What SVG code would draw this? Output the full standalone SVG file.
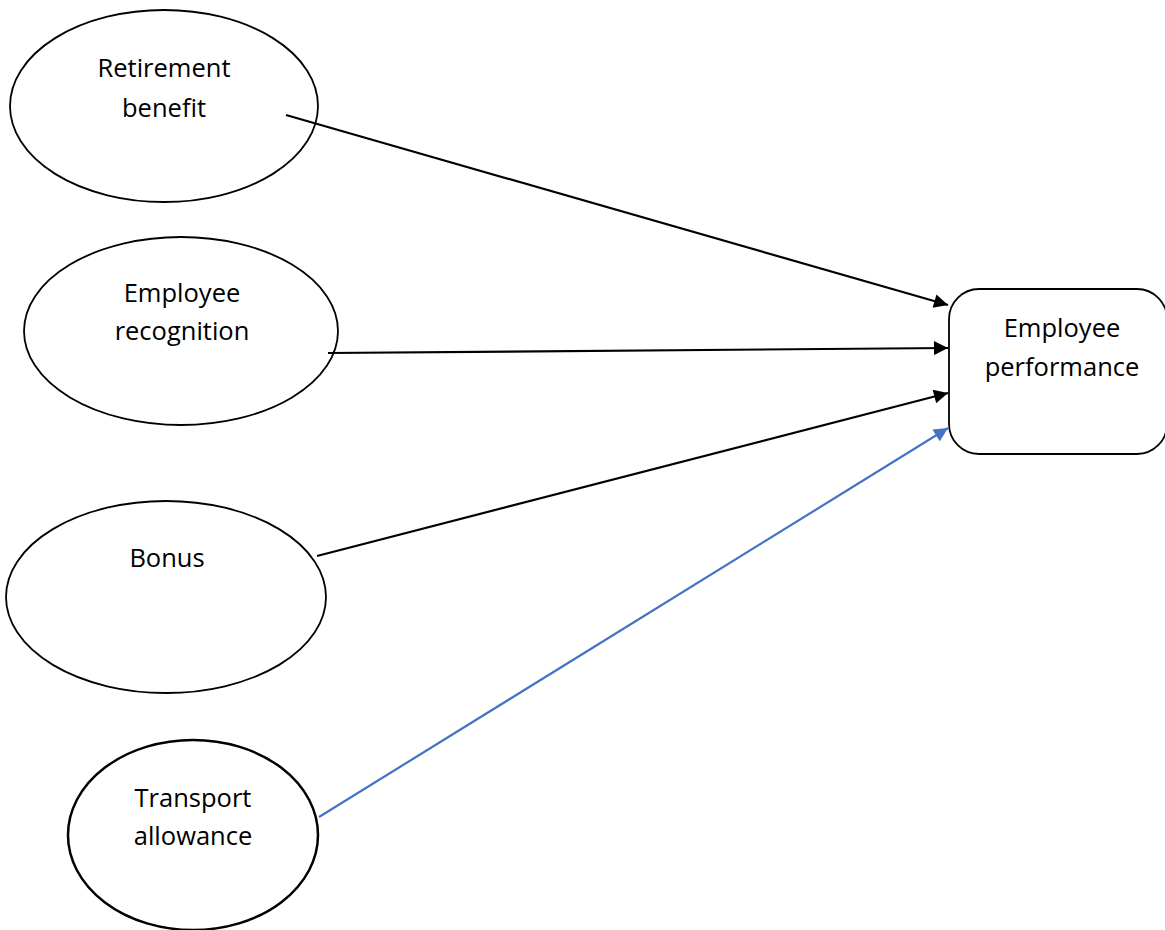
<svg xmlns="http://www.w3.org/2000/svg" width="1165" height="930" viewBox="0 0 1165 930">
<style>
.node{fill:#fff;stroke:#000;stroke-width:1.8}
.lbl{font-family:"Open Sans","Noto Sans",sans-serif;font-size:25.5px;fill:#000;text-anchor:middle}
.edge{stroke:#000;stroke-width:2.2;fill:none}
.blue{stroke:#4472C4;stroke-width:2.2;fill:none}
</style>
<defs>
<marker id="ah" viewBox="0 0 10 10" refX="10" refY="5" markerWidth="16" markerHeight="14" markerUnits="userSpaceOnUse" orient="auto"><path d="M0,0L10,5L0,10z" fill="#000"/></marker>
<marker id="ahb" viewBox="0 0 10 10" refX="10" refY="5" markerWidth="16" markerHeight="14" markerUnits="userSpaceOnUse" orient="auto"><path d="M0,0L10,5L0,10z" fill="#4472C4"/></marker>
</defs>
<rect width="1165" height="930" fill="#fff"/>
<g id="retirement">
<ellipse class="node" cx="164" cy="106" rx="154" ry="96"/>
<text class="lbl" x="164" y="77">Retirement</text>
<text class="lbl" x="164" y="117">benefit</text>
</g>
<g id="recognition">
<ellipse class="node" cx="181" cy="331" rx="157" ry="94"/>
<text class="lbl" x="182" y="302">Employee</text>
<text class="lbl" x="182" y="340">recognition</text>
</g>
<g id="bonus">
<ellipse class="node" cx="166" cy="597" rx="160" ry="96"/>
<text class="lbl" x="167" y="567">Bonus</text>
</g>
<g id="transport">
<ellipse class="node" cx="193" cy="835" rx="125" ry="95" style="stroke-width:2.5"/>
<text class="lbl" x="193" y="807">Transport</text>
<text class="lbl" x="193" y="845">allowance</text>
</g>
<g id="performance">
<rect class="node" x="949" y="289" width="218" height="165" rx="30" ry="30"/>
<text class="lbl" x="1062" y="337">Employee</text>
<text class="lbl" x="1062" y="376">performance</text>
</g>
<g id="connectors">
<line class="edge" x1="286" y1="115" x2="948" y2="305" marker-end="url(#ah)"/>
<line class="edge" x1="328" y1="353" x2="948" y2="348" marker-end="url(#ah)"/>
<line class="edge" x1="317" y1="556" x2="948" y2="393" marker-end="url(#ah)"/>
<line class="blue" x1="319" y1="817" x2="948" y2="428" marker-end="url(#ahb)"/>
</g>
</svg>
